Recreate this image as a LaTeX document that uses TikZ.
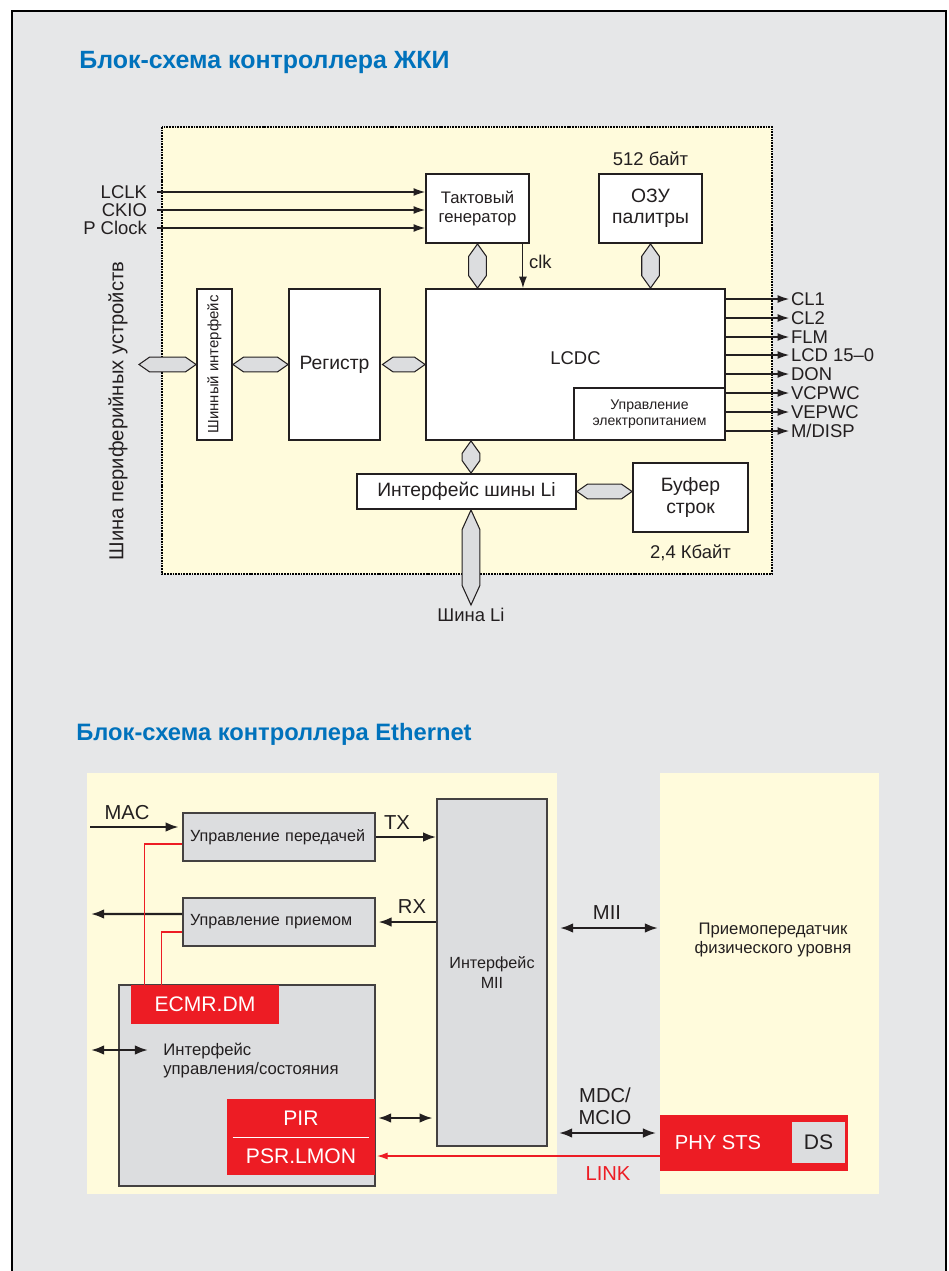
\documentclass[tikz,border=0pt]{standalone}
\usepackage{fontspec}
\setmainfont{Liberation Sans}
\usepackage{graphicx}
\usetikzlibrary{arrows.meta,positioning,calc}

\definecolor{pagegray}{HTML}{E6E7E8}
\definecolor{paleyel}{HTML}{FFFBDC}
\definecolor{boxgray}{HTML}{DCDDDF}
\definecolor{sigred}{HTML}{ED1C24}
\definecolor{titleblue}{HTML}{0072BC}
\definecolor{ink}{HTML}{231F20}

% hexagon bus shapes between two points
\newcommand{\hbus}[2]{\draw[bus] let \p1=#1, \p2=#2 in
  (\x1,\y1) -- (\x1+6pt,\y1+4.2pt) -- (\x2-6pt,\y1+4.2pt) -- (\x2,\y1)
  -- (\x2-6pt,\y1-4.2pt) -- (\x1+6pt,\y1-4.2pt) -- cycle;}
\newcommand{\vbus}[3]{\draw[bus] let \p1=#1, \p2=#2 in
  (\x1,\y1) -- (\x1+5pt,\y1-#3) -- (\x1+5pt,\y2+#3) -- (\x1,\y2)
  -- (\x1-5pt,\y2+#3) -- (\x1-5pt,\y1-#3) -- cycle;}

\begin{document}
\begin{tikzpicture}[
    x=0.02cm, y=-0.02cm,
    every node/.style={text=ink},
    blk/.style={draw=ink, line width=1.1pt, fill=white, align=center, inner sep=0pt, font=\fontsize{11}{12}\selectfont},
    lbl/.style={inner sep=1pt, font=\fontsize{10.5}{12}\selectfont},
    sig/.style={draw=ink, line width=0.6pt, -{Latex[length=6.5pt,width=4.5pt]}},
    bus/.style={draw=ink, line width=0.6pt, fill=boxgray},
    ctl/.style={draw=ink!85, line width=0.9pt, fill=boxgray, inner xsep=0.14cm, inner ysep=0pt, font=\fontsize{9.2}{11.3}\selectfont},
    regbox/.style={fill=sigred, text=white, inner sep=0pt, font=\fontsize{12}{14}\selectfont},
    elbl/.style={inner sep=0pt, font=\fontsize{11.5}{12.5}\selectfont},
    thk/.style={draw=ink, line width=1.3pt, -{Latex[length=7.5pt,width=5.5pt]}},
    dbl/.style={draw=ink, line width=1.3pt, {Latex[length=7.5pt,width=5.5pt]}-{Latex[length=7.5pt,width=5.5pt]}},
    redln/.style={draw=sigred, line width=0.6pt},
    link/.style={draw=sigred, line width=0.6pt, -{Latex[length=6pt,width=4pt]}},
    title/.style={anchor=base west, inner sep=0pt, text=titleblue, font=\fontsize{13.5}{16}\selectfont\bfseries}
]
\useasboundingbox (0,0) rectangle (949,1271);
\clip (0,0) rectangle (949,1271);
\fill[white] (0,0) rectangle (949,1271);
\draw[line width=1.4pt, fill=pagegray] (12,11) rectangle (946,1300);

% LCD controller
\node[title, font=\fontsize{14.2}{16}\selectfont\bfseries] (lcdtitle) at (79,68) {Блок-схема контроллера ЖКИ};
\draw[fill=paleyel, draw=black, line width=1.6pt, dash pattern=on 1pt off 0.55pt] (162,127) rectangle (772,574);

\node[blk, minimum width=2.06cm, minimum height=1.38cm, font=\fontsize{9.5}{10.8}\selectfont] (clkgen) at (477.5,208.5) {Тактовый\\генератор};
\node[blk, minimum width=2.06cm, minimum height=1.38cm] (ram) at (650.5,208.5) {ОЗУ\\палитры};
\node[lbl, above=0.1cm of ram] (ramsz) {512 байт};
\node[blk, minimum width=5.98cm, minimum height=3.02cm, label={[yshift=0.13cm, font=\fontsize{10.5}{12}\selectfont]center:LCDC}] (lcdc) at (575.5,364.5) {};
\node[blk, fill=none, line width=0.6pt, minimum width=3.02cm, minimum height=1.04cm, font=\fontsize{8}{9.2}\selectfont] (pwr) at (649.5,414) {Управление\\электропитанием};
\node[blk, minimum width=0.7cm, minimum height=3.02cm] (busif) at (214.5,364.5) {\rotatebox{90}{\fontsize{8.5}{10}\selectfont Шинный интерфейс}};
\node[blk, minimum width=1.82cm, minimum height=3.02cm] (reg) at (334.5,364.5) {Регистр};
\node[blk, minimum width=4.38cm, minimum height=0.7cm] (liif) at (466.5,491.5) {Интерфейс шины Li};
\node[blk, minimum width=2.3cm, minimum height=1.38cm] (buf) at (690.5,497.5) {Буфер\\строк};
\node[lbl, below=0.2cm of buf] (bufsz) {2,4 Кбайт};
\node[lbl, rotate=90, font=\fontsize{11.5}{13}\selectfont] (perbus) at (118,411) {Шина периферийных устройств};

\node[lbl, anchor=east] (lclk) at (149,192) {LCLK};
\node[lbl, anchor=east] (ckio) at (149,210) {CKIO};
\node[lbl, anchor=east] (pclk) at (149,228) {P Clock};
\draw[sig] ([xshift=0.16cm]lclk.east) -- (clkgen.west |- lclk.east);
\draw[sig] ([xshift=0.16cm]ckio.east) -- (clkgen.west |- ckio.east);
\draw[sig] ([xshift=0.16cm]pclk.east) -- (clkgen.west |- pclk.east);

\draw[sig] ([xshift=-0.14cm]clkgen.south east) -- ([xshift=-0.14cm]clkgen.south east |- lcdc.north);
\node[lbl, anchor=west] (clklbl) at (527,262) {clk};

\node[lbl, anchor=west] (cl1) at (789,299) {CL1};
\node[lbl, anchor=west] (cl2) at (789,318) {CL2};
\node[lbl, anchor=west] (flm) at (789,337) {FLM};
\node[lbl, anchor=west] (lcd) at (789,355) {LCD 15--0};
\node[lbl, anchor=west] (don) at (789,374) {DON};
\node[lbl, anchor=west] (vcp) at (789,393) {VCPWC};
\node[lbl, anchor=west] (vep) at (789,412) {VEPWC};
\node[lbl, anchor=west] (mdisp) at (789,431) {M/DISP};
\draw[sig] (lcdc.east |- cl1) -- (cl1.west);
\draw[sig] (lcdc.east |- cl2) -- (cl2.west);
\draw[sig] (lcdc.east |- flm) -- (flm.west);
\draw[sig] (lcdc.east |- lcd) -- (lcd.west);
\draw[sig] (lcdc.east |- don) -- (don.west);
\draw[sig] (lcdc.east |- vcp) -- (vcp.west);
\draw[sig] (lcdc.east |- vep) -- (vep.west);
\draw[sig] (lcdc.east |- mdisp) -- (mdisp.west);

\coordinate (perin) at (139,364.5);
\coordinate (libus) at (471,605);
\hbus{(perin)}{(busif.west)}
\hbus{(busif.east)}{(reg.west)}
\hbus{([xshift=0.03cm]reg.east)}{(lcdc.west)}
\hbus{(liif.east)}{(buf.west |- liif.east)}
\vbus{(clkgen.south)}{(clkgen.south |- lcdc.north)}{7pt}
\vbus{(ram.south)}{(ram.south |- lcdc.north)}{7pt}
\vbus{([xshift=0.09cm]liif.north |- lcdc.south)}{([xshift=0.09cm]liif.north)}{7pt}
\vbus{([xshift=0.09cm]liif.south)}{(libus)}{11pt}
\node[lbl, below=0.03cm of libus] (lilbl) {Шина Li};

% Ethernet controller
\node[title] (ethtitle) at (76,740) {Блок-схема контроллера Ethernet};
\fill[paleyel] (87,773) rectangle (557,1194);
\fill[paleyel] (660,773) rectangle (879,1194);

\node[ctl, minimum width=3.84cm, minimum height=0.96cm, text width=3.56cm, align=left] (txc) at (279,837) {Управление передачей};
\node[ctl, minimum width=3.84cm, minimum height=0.96cm, text width=3.56cm, align=left] (rxc) at (279,922) {Управление приемом};
\node[ctl, minimum width=2.2cm, minimum height=6.94cm, inner xsep=0pt, align=center] (miiif) at (492,972.5) {Интерфейс\\MII};
\node[ctl, minimum width=5.12cm, minimum height=4.02cm] (ctlst) at (247,1085.5) {};
\node[anchor=west, align=left, inner sep=0pt, font=\fontsize{9.5}{10.8}\selectfont] (ctltxt) at (163,1060.5) {Интерфейс\\управления/состояния};
\node[regbox, minimum width=2.96cm, minimum height=0.78cm] (ecmr) at (205,1004.5) {ECMR.DM};
\node[regbox, minimum width=2.96cm, minimum height=0.76cm] (pir) at (301,1118) {PIR};
\node[regbox, minimum width=2.96cm, minimum height=0.76cm] (psr) at (301,1156) {PSR.LMON};
\draw[white, line width=0.6pt] ([xshift=0.12cm]pir.south west) -- ([xshift=-0.12cm]pir.south east);
\node[align=center, inner sep=0pt, font=\fontsize{9.5}{11.3}\selectfont] (xcvr) at (773,940) {Приемопередатчик\\физического уровня};
\node[regbox, minimum width=3.76cm, minimum height=1.12cm, label={[text=white, xshift=-0.72cm, font=\fontsize{11.5}{13}\selectfont]center:PHY STS}] (phy) at (754,1143) {};
\node[fill=boxgray, inner sep=0pt, minimum width=1.06cm, minimum height=0.82cm, font=\fontsize{12}{14}\selectfont] (ds) at (818.5,1142.5) {DS};

\coordinate (macin) at (90,827);
\draw[thk, shorten >=2pt] (macin) -- (txc.west |- macin);
\node[elbl] (maclbl) at (127,813) {MAC};
\draw[thk] (txc.east) -- (miiif.west |- txc.east);
\node[elbl] (txlbl) at (397,823) {TX};
\draw[thk, shorten >=1.5pt] (miiif.west |- rxc.east) -- (rxc.east);
\node[elbl] (rxlbl) at (412,907) {RX};
\coordinate (rxout) at (91,914);
\draw[thk] ([yshift=0.16cm]rxc.west) -- (rxout);

\draw[redln] ([yshift=-0.14cm]txc.west) -| ([xshift=0.28cm]ecmr.north west);
\draw[redln] ([yshift=-0.2cm]rxc.west) -| ([xshift=0.62cm]ecmr.north west);

\coordinate (miil) at (560,928);
\coordinate (miir) at (658,928);
\draw[dbl] (miil) -- (miir);
\node[elbl] (miilbl) at (607,913) {MII};

\coordinate (ctll) at (91,1050);
\coordinate (ctlr) at (148,1050);
\draw[dbl] (ctll) -- (ctlr);
\draw[dbl, shorten <=1.5pt, shorten >=2pt] (pir.east) -- (miiif.west |- pir.east);

\coordinate (mdcl) at (559,1133);
\draw[dbl, shorten >=2pt] (mdcl) -- (mdcl -| phy.west);
\node[elbl, align=center] (mdclbl) at (605,1106) {MDC/\\MCIO};

\draw[link, shorten >=1pt] (phy.west |- psr.east) -- (psr.east);
\node[elbl, text=sigred] (linklbl) at (608,1174) {LINK};
\end{tikzpicture}
\end{document}
